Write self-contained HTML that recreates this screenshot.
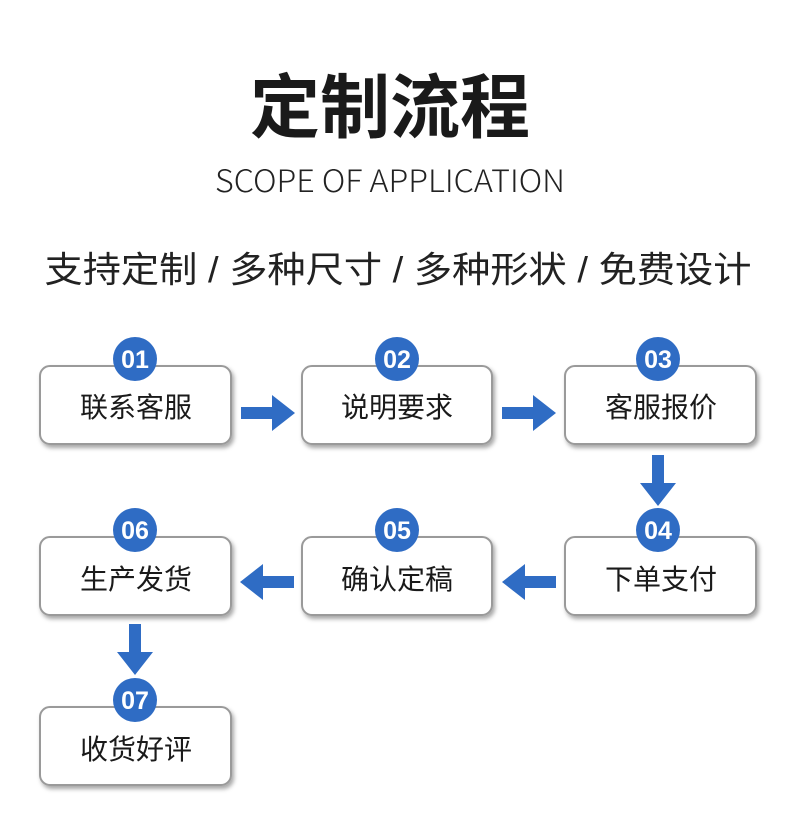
<!DOCTYPE html>
<html><head><meta charset="utf-8"><style>
html,body{margin:0;padding:0;background:#fff;}
svg{display:block}
text{font-family:"Liberation Sans","Noto Sans CJK SC",sans-serif;}
</style></head><body>
<svg width="790" height="829" viewBox="0 0 790 829" xmlns="http://www.w3.org/2000/svg">
<defs>
<filter id="sh" x="-10%" y="-10%" width="130%" height="140%">
<feDropShadow dx="2" dy="3" stdDeviation="2" flood-color="#000" flood-opacity="0.35"/>
</filter>
</defs>
<rect width="790" height="829" fill="#fff"/>
<text x="390" y="132" text-anchor="middle" font-size="70" font-weight="bold" fill="#1a1a1a" textLength="280" lengthAdjust="spacingAndGlyphs" style="font-family:'Noto Sans CJK SC',sans-serif">定制流程</text>
<text x="390" y="192" text-anchor="middle" font-size="31" font-weight="300" fill="#222" textLength="350" lengthAdjust="spacingAndGlyphs" style="font-family:'Noto Sans CJK SC','Liberation Sans',sans-serif">SCOPE OF APPLICATION</text>
<text x="398" y="282" text-anchor="middle" font-size="36" fill="#222" textLength="707" lengthAdjust="spacingAndGlyphs">支持定制 / 多种尺寸 / 多种形状 / 免费设计</text>

<g fill="#fff" stroke="#9a9a9a" stroke-width="2" filter="url(#sh)">
<rect x="40" y="366" width="191" height="78" rx="10"/>
<rect x="302" y="366" width="190" height="78" rx="10"/>
<rect x="565" y="366" width="191" height="78" rx="10"/>
<rect x="40" y="537" width="191" height="78" rx="10"/>
<rect x="302" y="537" width="190" height="78" rx="10"/>
<rect x="565" y="537" width="191" height="78" rx="10"/>
<rect x="40" y="707" width="191" height="78" rx="10"/>
</g>

<g fill="#2f6cc4">
<circle cx="135" cy="359" r="22"/>
<circle cx="397" cy="359" r="22"/>
<circle cx="658" cy="359" r="22"/>
<circle cx="135" cy="530" r="22"/>
<circle cx="397" cy="530" r="22"/>
<circle cx="658" cy="530" r="22"/>
<circle cx="135" cy="700" r="22"/>
<polygon points="241,407 272,407 272,395 295,413 272,431 272,419 241,419"/>
<polygon points="502,407 533,407 533,395 556,413 533,431 533,419 502,419"/>
<polygon points="556,576 525,576 525,564 502,582 525,600 525,588 556,588"/>
<polygon points="294,576 263,576 263,564 240,582 263,600 263,588 294,588"/>
<polygon points="652,455 664,455 664,483 676,483 658,506 640,483 652,483"/>
<polygon points="129,624 141,624 141,652 153,652 135,675 117,652 129,652"/>
</g>

<g fill="#fff" font-size="25" font-weight="bold" text-anchor="middle">
<text x="135" y="368">01</text>
<text x="397" y="368">02</text>
<text x="658" y="368">03</text>
<text x="658" y="539">04</text>
<text x="397" y="539">05</text>
<text x="135" y="539">06</text>
<text x="135" y="709">07</text>
</g>

<g fill="#1a1a1a" font-size="28" text-anchor="middle">
<text x="136" y="417">联系客服</text>
<text x="397" y="417">说明要求</text>
<text x="661" y="417">客服报价</text>
<text x="661" y="589">下单支付</text>
<text x="397" y="589">确认定稿</text>
<text x="136" y="589">生产发货</text>
<text x="136" y="759">收货好评</text>
</g>
</svg>
</body></html>
